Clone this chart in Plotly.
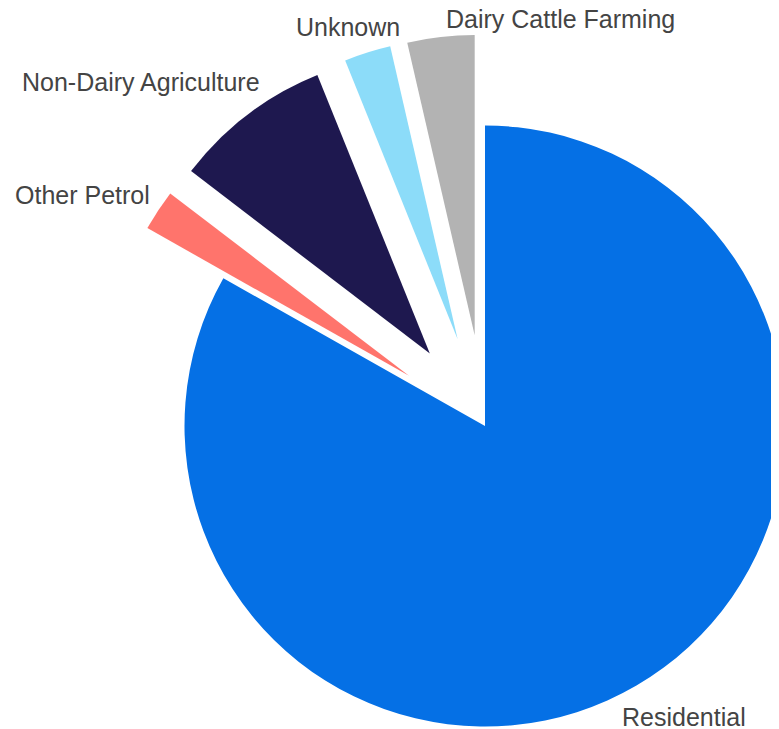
import math
import plotly.graph_objects as go

# Share of each source (percent)
labels = ["Residential", "Other Petrol", "Non-Dairy Agriculture", "Unknown", "Dairy Cattle Farming"]
values = [83.1, 2.2, 8.5, 2.5, 3.6]
pulled = [False, True, True, True, True]

COLORS = ["#0570E5", "#FF746C", "#1E184F", "#8CDCF9", "#B3B3B3"]

# layout in pixels (figure sits 8px in from the page corner)
W, H = 779, 729
OFF = 8
CX, CY, R = 485 - OFF, 426 - OFF, 300.5
PULL = 0.303
# left edge / vertical centre of each outside label (page pixels)
LABEL_POS = [(620, 717), (13, 195), (20, 82), (294, 27), (444, 19)]

fig = go.Figure()
total = sum(values)
start = 0.0
for i, val in enumerate(values):
    # pull each exploded slice out along its bisector by moving its own pie
    mid = 2 * math.pi * (start + val / 2) / total
    start += val
    d = PULL * R if pulled[i] else 0
    cx = CX + d * math.sin(mid)
    cy = CY - d * math.cos(mid)
    slice_colors = [c if j == i else "rgba(0,0,0,0)" for j, c in enumerate(COLORS)]
    fig.add_trace(go.Pie(
        labels=labels,
        values=values,
        sort=False,
        direction="clockwise",
        rotation=0,
        marker=dict(colors=slice_colors, line=dict(width=0)),
        textinfo="none",
        hoverinfo="skip",
        showlegend=False,
        domain=dict(
            x=[max(0, (cx - R) / W), min(1, (cx + R) / W)],
            y=[max(0, 1 - (cy + R) / H), min(1, 1 - (cy - R) / H)],
        ),
    ))

for lab, (px, py) in zip(labels, LABEL_POS):
    fig.add_annotation(
        text=lab, x=(px - OFF) / W, y=1 - (py - OFF) / H, xref="paper", yref="paper",
        xanchor="left", yanchor="middle", showarrow=False,
        font=dict(family="Arial, Liberation Sans, sans-serif", size=25, color="#444444"),
    )

fig.update_layout(
    width=W, height=H,
    margin=dict(l=0, r=0, t=0, b=0),
    paper_bgcolor="white",
    plot_bgcolor="white",
)

fig.write_html("out.html")
